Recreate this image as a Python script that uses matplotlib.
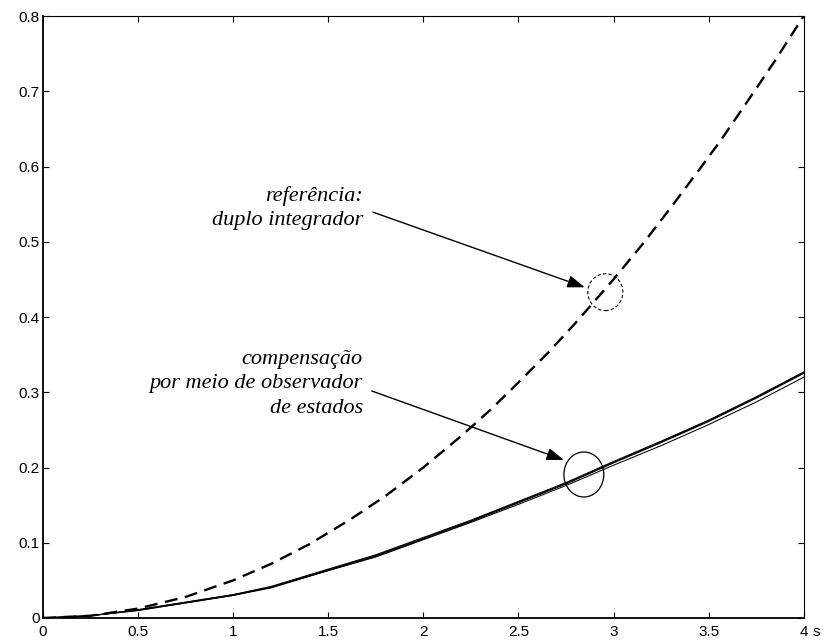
import matplotlib
matplotlib.use("Agg")
import matplotlib.pyplot as plt
from matplotlib.patches import Ellipse
from matplotlib.transforms import offset_copy

# === dados ===
# referência: duplo integrador (tracejado)
t_ref = [0, 0.25, 0.5, 0.75, 1.0, 1.2, 1.4, 1.61, 1.8, 2.0, 2.2, 2.35, 2.48,
         2.65, 2.8, 3.0, 3.15, 3.3, 3.46, 3.57, 3.7, 3.85, 4.0]
y_ref = [0, 0.003, 0.0125, 0.028, 0.05, 0.072, 0.098, 0.130, 0.162, 0.200,
         0.242, 0.276, 0.308, 0.351, 0.392, 0.450, 0.496, 0.545, 0.599, 0.637,
         0.685, 0.741, 0.800]

# compensação por meio de observador de estados (várias respostas)
t_obs = [0, 0.25, 0.5, 0.75, 1.0, 1.2, 1.5, 1.75, 2.0, 2.25, 2.5, 2.75, 3.0,
         3.25, 3.5, 3.75, 4.0]
y_obs1 = [0, 0.003, 0.011, 0.021, 0.031, 0.042, 0.065, 0.084, 0.107, 0.130,
          0.155, 0.180, 0.208, 0.235, 0.263, 0.294, 0.327]
y_obs2 = [0, 0.003, 0.011, 0.021, 0.031, 0.041, 0.064, 0.083, 0.106, 0.129,
          0.154, 0.179, 0.207, 0.234, 0.262, 0.293, 0.326]
y_obs3 = [0, 0.003, 0.010, 0.020, 0.030, 0.041, 0.063, 0.082, 0.105, 0.128,
          0.153, 0.178, 0.206, 0.233, 0.261, 0.292, 0.325]
y_obs4 = [0, 0.003, 0.010, 0.020, 0.030, 0.040, 0.063, 0.081, 0.104, 0.127,
          0.151, 0.176, 0.203, 0.229, 0.257, 0.287, 0.320]

xticks = [0, 0.5, 1, 1.5, 2, 2.5, 3, 3.5, 4]
xlabels = ["0", "0.5", "1", "1.5", "2", "2.5", "3", "3.5", "4"]
yticks = [0, 0.1, 0.2, 0.3, 0.4, 0.5, 0.6, 0.7, 0.8]
ylabels = ["0", "0.1", "0.2", "0.3", "0.4", "0.5", "0.6", "0.7", "0.8"]

# === figura ===
fig = plt.figure(figsize=(8.26, 6.42), dpi=100)
ax = fig.add_axes([0.052, 0.0374, 0.921, 0.9376])

ax.plot(t_ref, y_ref, color="black", lw=1.7, dashes=(5.5, 3.2))
for y in (y_obs1, y_obs2, y_obs3, y_obs4):
    ax.plot(t_obs, y, color="black", lw=0.75)

ax.set_xlim(0, 4)
ax.set_ylim(0, 0.8)
ax.set_xticks(xticks)
ax.set_xticklabels(xlabels)
ax.set_yticks(yticks)
ax.set_yticklabels(ylabels)
ax.tick_params(direction="in", length=4, width=0.8, top=True, right=True,
               labelsize=11)
ax.tick_params(axis="x", pad=5)
ax.tick_params(axis="y", pad=2.5)
for lbl in ax.get_xticklabels() + ax.get_yticklabels():
    lbl.set_family("Liberation Sans")
for side in ("left", "bottom"):
    ax.spines[side].set_linewidth(1.3)
for side in ("top", "right"):
    ax.spines[side].set_linewidth(0.8)

# unidade "s" ao lado do 4
trans = offset_copy(ax.get_xaxis_transform(), fig=fig, x=6.5, y=-5, units="points")
ax.text(4, 0, "s", transform=trans, ha="left", va="top", fontsize=11,
        family="Liberation Sans")

# === anotações ===
serif = dict(family="Liberation Serif", style="italic", fontsize=16)
ax.text(1.682, 0.545, "referência:\nduplo integrador", ha="right", va="center",
        multialignment="right", linespacing=1.4, **serif)
ax.text(1.682, 0.311, "compensação\npor meio de observador\nde estados",
        ha="right", va="center", multialignment="right", linespacing=1.4, **serif)

arrow = dict(arrowstyle="-|>,head_length=0.7,head_width=0.25", color="black",
             lw=1.0, shrinkA=0, shrinkB=0, mutation_scale=15)
ax.annotate("", xy=(2.849, 0.4395), xytext=(1.735, 0.5394), arrowprops=arrow)
ax.annotate("", xy=(2.739, 0.210), xytext=(1.729, 0.3017), arrowprops=arrow)

ax.add_patch(Ellipse((2.957, 0.433), 0.184, 0.049, fill=False, lw=0.8,
                     ls=(0, (3, 2)), color="black"))
ax.add_patch(Ellipse((2.844, 0.1907), 0.210, 0.0598, fill=False, lw=0.9,
                     color="black"))

fig.savefig("out.png", dpi=100)
